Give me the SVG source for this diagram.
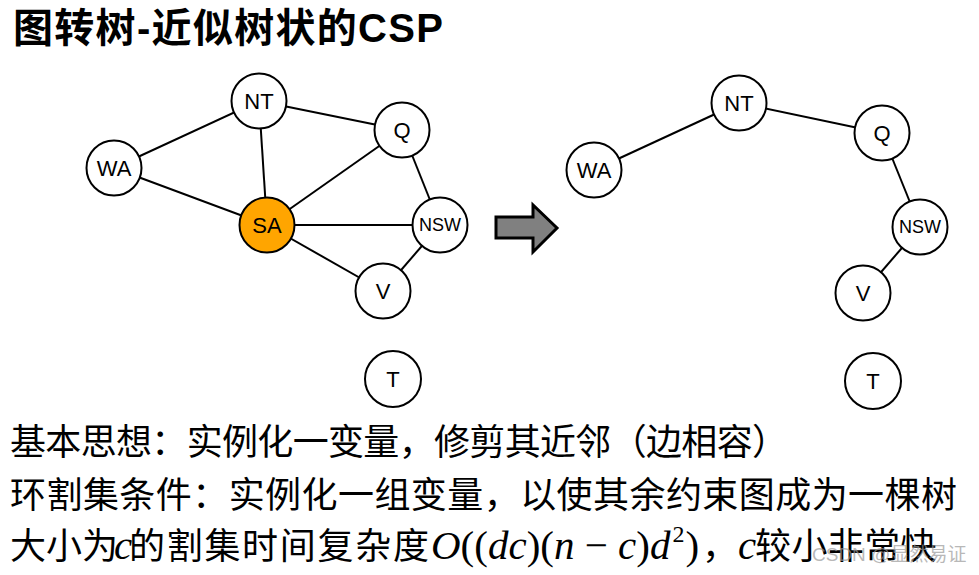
<svg xmlns="http://www.w3.org/2000/svg" width="979" height="575" viewBox="0 0 979 575">
<style>
.n{fill:#fff;stroke:#000;stroke-width:2}
.sa{fill:#FFA500;stroke:#000;stroke-width:2}
.lb{font-family:"Liberation Sans",Arial,sans-serif;font-size:22px;text-anchor:middle;fill:#000}
.sm{font-size:18px}
.e line{stroke:#000;stroke-width:2}
.t{font-family:"Noto Sans CJK SC","Noto Sans",sans-serif;font-size:36px;fill:#000}
.m{font-family:"Liberation Serif","DejaVu Serif",serif;font-size:41px}
.sup{font-family:"Liberation Serif","DejaVu Serif",serif;font-size:24px}
.i{font-style:italic}
</style>
<rect width="979" height="575" fill="#fff"/>
<text x="13" y="42" textLength="430" lengthAdjust="spacing" font-family="Liberation Sans,'Noto Sans CJK SC',sans-serif" font-weight="bold" font-size="40" fill="#000">图转树-近似树状的CSP</text>

<g id="edges" class="e">
<line x1="114" y1="168" x2="259" y2="101"/>
<line x1="114" y1="168" x2="267" y2="225"/>
<line x1="259" y1="101" x2="267" y2="225"/>
<line x1="259" y1="101" x2="402" y2="130"/>
<line x1="267" y1="225" x2="402" y2="130"/>
<line x1="267" y1="225" x2="440" y2="225"/>
<line x1="267" y1="225" x2="383" y2="291"/>
<line x1="402" y1="130" x2="440" y2="225"/>
<line x1="440" y1="225" x2="383" y2="291"/>
<line x1="594" y1="170" x2="739" y2="103"/>
<line x1="739" y1="103" x2="882" y2="133"/>
<line x1="882" y1="133" x2="920" y2="227"/>
<line x1="920" y1="227" x2="863" y2="293"/>
</g>

<g id="WA1"><circle class="n" cx="114" cy="168" r="27.5"/><text class="lb" x="114" y="176">WA</text></g>
<g id="NT1"><circle class="n" cx="259" cy="101" r="27.5"/><text class="lb" x="259" y="109">NT</text></g>
<g id="Q1"><circle class="n" cx="402" cy="130" r="27.5"/><text class="lb" x="402" y="138">Q</text></g>
<g id="SA1"><circle class="sa" cx="267" cy="225" r="27.5"/><text class="lb" x="267" y="233">SA</text></g>
<g id="NSW1"><circle class="n" cx="440" cy="225" r="27.5"/><text class="lb sm" x="440" y="231">NSW</text></g>
<g id="V1"><circle class="n" cx="383" cy="291" r="27.5"/><text class="lb" x="383" y="299">V</text></g>
<g id="T1"><circle class="n" cx="393" cy="379" r="28"/><text class="lb" x="393" y="387">T</text></g>

<g id="arrow"><path d="M496,217 H533 V205 L557,228 L533,252 V238 H496 Z" fill="#808080" stroke="#000" stroke-width="3"/></g>

<g id="WA2"><circle class="n" cx="594" cy="170" r="27.5"/><text class="lb" x="594" y="178">WA</text></g>
<g id="NT2"><circle class="n" cx="739" cy="103" r="27.5"/><text class="lb" x="739" y="111">NT</text></g>
<g id="Q2"><circle class="n" cx="882" cy="133" r="27.5"/><text class="lb" x="882" y="141">Q</text></g>
<g id="NSW2"><circle class="n" cx="920" cy="227" r="27.5"/><text class="lb sm" x="920" y="233">NSW</text></g>
<g id="V2"><circle class="n" cx="863" cy="293" r="27.5"/><text class="lb" x="863" y="301">V</text></g>
<g id="T2"><circle class="n" cx="873" cy="381" r="28"/><text class="lb" x="873" y="389">T</text></g>

<text class="t" x="10" y="455" textLength="778" lengthAdjust="spacing">基本思想：实例化一变量，修剪其近邻（边相容）</text>
<text class="t" x="10" y="508" textLength="947" lengthAdjust="spacing">环割集条件：实例化一组变量，以使其余约束图成为一棵树</text>
<text class="t" y="559" xml:space="preserve"><tspan x="10">大小为</tspan><tspan class="m i" x="114" font-size="34">c</tspan><tspan x="129" letter-spacing="1.7">的割集时间复杂度</tspan><tspan class="m i" x="431">O</tspan><tspan class="m">((</tspan><tspan class="m i">dc</tspan><tspan class="m">)(</tspan><tspan class="m i">n</tspan><tspan class="m"> − </tspan><tspan class="m i">c</tspan><tspan class="m">)</tspan><tspan class="m i">d</tspan><tspan class="sup" dx="2" y="542">2</tspan><tspan class="m" dx="1" y="559">)</tspan><tspan x="702">，</tspan><tspan class="m i" x="738">c</tspan><tspan x="755" letter-spacing="0.4">较小非常快</tspan></text>
<text x="812" y="561" font-family="Liberation Sans,'Noto Sans CJK SC',sans-serif" font-size="19" fill="#999" fill-opacity="0.7">CSDN @显然易证</text>
</svg>
